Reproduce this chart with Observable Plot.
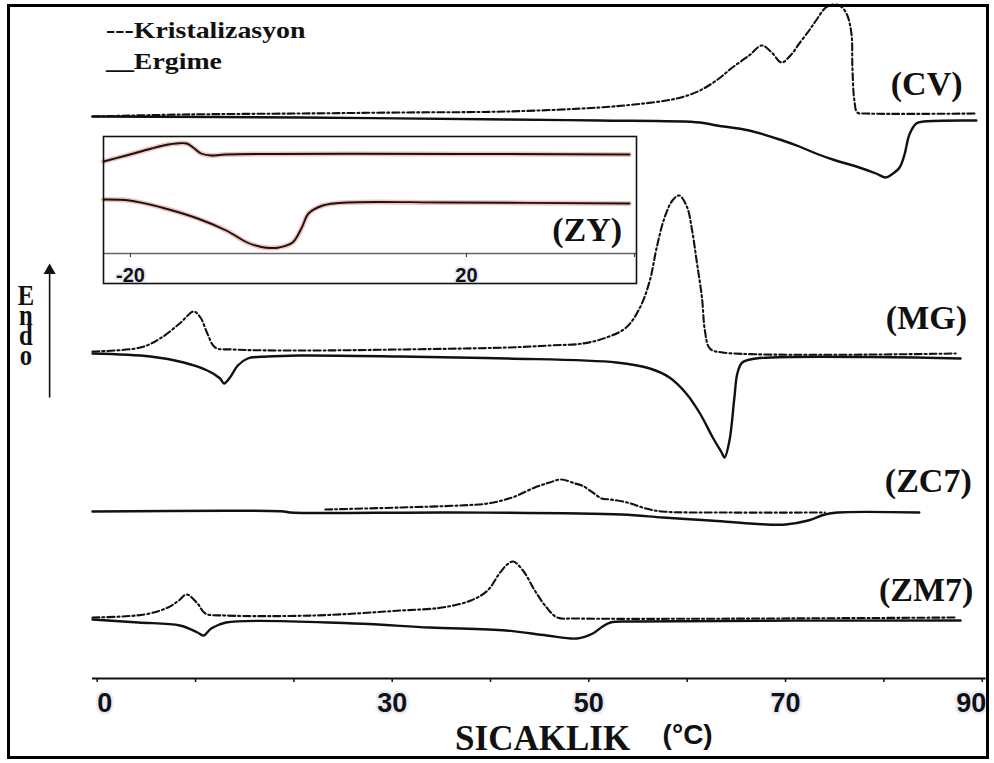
<!DOCTYPE html>
<html>
<head>
<meta charset="utf-8">
<script src="https://cdn.jsdelivr.net/npm/d3@7"></script>
<script src="https://cdn.jsdelivr.net/npm/@observablehq/plot@0.6"></script>
<style>
  html, body { margin: 0; padding: 0; background: #fff; }
  #wrap { position: relative; width: 994px; height: 763px; overflow: hidden; background: #fff; }
  #main { position: absolute; left: 0; top: 0; }
  #inset { position: absolute; left: 101px; top: 134px; }
  #frame { position: absolute; left: 7px; top: 4px; width: 976px; height: 749px; border: 3px solid #000; pointer-events: none; }
  .legend { position: absolute; left: 106px; font-family: "Liberation Serif", serif; font-weight: bold;
            font-size: 24px; line-height: 1; white-space: nowrap; transform: scaleX(1.16); transform-origin: left center; color: #111; }
  #endo { position: absolute; left: 11px; top: 279px; font-family: "Liberation Serif", serif; font-weight: bold;
          font-size: 29px; line-height: 1; writing-mode: vertical-lr; text-orientation: upright; letter-spacing: -12px;
          transform: scaleX(0.85); transform-origin: center top; color: #111; }
</style>
</head>
<body>
<div id="wrap">
  <div id="main"></div>
  <div id="inset"></div>
  <div class="legend" style="top:18px">---Kristalizasyon</div>
  <div class="legend" style="top:49px">__Ergime</div>
  <div id="endo">Endo</div>
  <div id="frame"></div>
</div>
<script>
// DSC thermograms: temperature (°C) vs. heat flow (arbitrary units, curves stacked with offsets).
// Each series is a list of [temperature, signal] readings.

// Melting (Ergime, solid) and crystallization (Kristalizasyon, dash-dot) curves per sample
const cvErgime = [[-0.48,562],[20.6,561],[41.7,559],[51.1,558],[61.3,556],[63.0,553],[66.3,548],[69.7,538],[71.4,532],[73.1,525],[74.8,519],[77.5,511],[79.2,505],[80.2,501],[80.8,504],[81.6,511],[82.1,524],[82.6,544],[83.3,555],[84.1,557],[89.4,558]];
const cvKristalizasyon = [[-0.48,562],[8.8,564],[20.6,565],[30.8,566],[41.7,567],[51.1,571],[54.6,574],[57.9,578],[59.7,582],[61.3,588],[63.1,599],[64.6,611],[66.3,623],[67.6,633],[68.6,626],[69.6,616],[70.5,623],[71.4,635],[72.4,648],[73.1,658],[74.1,671],[74.9,674],[75.5,673],[76.2,665],[76.7,645],[76.8,611],[77.0,578],[77.3,566],[78.2,565],[89.4,565]];

const mgErgime = [[-0.48,325],[5.4,322],[8.8,316],[11.2,308],[12.5,300],[12.9,295],[13.5,301],[14.3,313],[15.3,320],[17.3,322],[20.6,323],[30.8,322],[41.7,320],[52.8,316],[56.2,310],[58.2,301],[59.9,285],[61.3,265],[62.6,241],[63.5,226],[63.8,221],[64.3,238],[64.8,281],[65.1,305],[65.6,316],[67.0,320],[87.8,320]];
const mgKristalizasyon = [[-0.48,327],[4.4,331],[6.4,340],[8.5,356],[9.8,367],[10.5,361],[11.2,345],[12.0,331],[13.8,329],[20.6,328],[30.8,329],[41.7,331],[46.0,333],[49.4,335],[51.8,341],[53.8,351],[55.2,371],[56.2,398],[56.9,431],[57.7,461],[58.5,478],[59.2,483],[60.0,471],[60.5,448],[61.0,415],[61.5,381],[61.8,348],[62.3,330],[63.6,326],[87.3,325]];

const zc7Ergime = [[-0.48,167],[19.0,167],[19.6,166],[36.2,166],[53.3,164],[57.5,161],[62.3,158],[66.4,155],[70.0,154],[72.3,158],[74.0,164],[75.3,166],[83.6,166]];
const zc7Kristalizasyon = [[23.2,169],[30.9,171],[36.8,173],[39.7,175],[42.2,181],[44.5,191],[46.0,196],[47.2,199],[48.6,195],[49.3,193],[50.4,186],[51.3,180],[52.2,179],[53.9,176],[55.8,170],[57.5,167],[63.4,166],[74.0,166]];

const zm7Ergime = [[-0.48,59],[4.2,56],[8.4,53],[10.2,46],[10.8,43],[11.6,50],[13.1,56],[26.1,55],[33.8,51],[41.6,48],[45.7,43],[48.8,40],[50.4,45],[51.4,52],[52.2,56],[54.6,57],[87.8,58]];
const zm7Kristalizasyon = [[-0.48,61],[4.8,64],[7.2,71],[8.3,78],[9.1,84],[10.2,75],[11.0,65],[13.1,63],[22.0,63],[30.9,68],[35.1,71],[38.0,78],[39.7,88],[40.9,105],[41.7,114],[42.3,117],[43.3,108],[44.5,88],[45.7,71],[46.8,61],[48.7,60],[87.4,61]];

// ZY sample (inset, sub-zero temperature range)
const zyUpper = [[-23.2,122],[-20.5,128],[-17.5,135],[-15.5,139],[-14.5,140],[-13.3,140],[-12.4,135],[-11.6,130],[-10.4,128],[-8.6,129],[39.4,129]];
const zyLower = [[-23.2,84],[-20.1,83],[-16.3,76],[-12.0,65],[-8.6,53],[-6.1,41],[-4.4,36.5],[-3.3,35.5],[-2.3,36],[-0.7,41],[0.4,56],[1.2,70],[2.9,78],[5.8,81],[17.7,81],[39.4,80]];

// Sample names and where their labels sit (temperature, signal)
const sampleNames = ["(CV)", "(MG)", "(ZC7)", "(ZM7)"];
const sampleLabelT = [80.7, 80.2, 80.1, 79.5];
const sampleLabelY = [594, 360, 197, 88];

// Axis ticks
const xTicks = d3.range(0, 91, 10);
const xTickLabels = [0, 30, 50, 70, 90];
const insetTicks = [-20, 20, 40];
const insetTickLabels = [-20, 20];

const axisSpan = [-0.48, 90.4];
const serif = "Liberation Serif, serif";
const sans = "Liberation Sans, Arial, sans-serif";
const dashDot = "7,3,2,3";
const labelHalo = "#ebebf7";

const pt = {x: d => d[0], y: d => d[1], curve: "catmull-rom"};
const solid = (data) => Plot.line(data, {...pt, stroke: "#111", strokeWidth: 2.4});
const dashed = (data) => Plot.line(data, {...pt, stroke: "#111", strokeWidth: 2.1, strokeDasharray: dashDot});
const tickText = {y: 0, dy: 25, text: d => `${d}`, fontFamily: sans, fontWeight: "bold", fontSize: 27,
  fill: "#111", stroke: labelHalo, strokeWidth: 5, paintOrder: "stroke"};

const main = Plot.plot({
  width: 994,
  height: 763,
  marginLeft: 96.7,
  marginRight: 12.3,
  marginTop: 0,
  marginBottom: 85,
  x: {domain: [0, 90], axis: null},
  y: {domain: [0, 678], axis: null},
  style: {background: "transparent", overflow: "visible"},
  marks: [
    // bottom temperature axis
    Plot.ruleY([0], {x1: axisSpan[0], x2: axisSpan[1], stroke: "#111", strokeWidth: 2}),
    Plot.ruleX(xTicks, {y1: 0, y2: -4, stroke: "#111", strokeWidth: 1.5}),
    Plot.text(xTickLabels.filter(d => d === 0), {...tickText, x: d => d, textAnchor: "start"}),
    Plot.text(xTickLabels.filter(d => d > 0 && d < 90), {...tickText, x: d => d, textAnchor: "middle"}),
    Plot.text(xTickLabels.filter(d => d === 90), {...tickText, x: d => d, dx: 4, textAnchor: "end"}),
    Plot.text(["SICAKLIK"], {x: 45.3, y: -60, text: d => d, textAnchor: "middle", lineAnchor: "middle",
      fontFamily: serif, fontWeight: "bold", fontSize: 35, fill: "#111"}),
    Plot.text(["(°C)"], {x: 57.5, y: -57, text: d => d, textAnchor: "start", lineAnchor: "middle",
      fontFamily: sans, fontWeight: "bold", fontSize: 28, fill: "#111"}),

    // endothermic direction arrow
    Plot.link([0], {x1: -4.84, x2: -4.84, y1: 281, y2: 405, stroke: "#111", strokeWidth: 1.6}),
    Plot.dot([0], {x: -4.84, y: 408, symbol: "triangle", r: 4.5, fill: "#111", stroke: "none"}),

    // thermograms
    solid(cvErgime), dashed(cvKristalizasyon),
    solid(mgErgime), dashed(mgKristalizasyon),
    solid(zc7Ergime), dashed(zc7Kristalizasyon),
    solid(zm7Ergime), dashed(zm7Kristalizasyon),

    // sample labels
    Plot.text(sampleNames, {x: (d, i) => sampleLabelT[i], y: (d, i) => sampleLabelY[i], text: d => d,
      textAnchor: "start", lineAnchor: "middle", fontFamily: serif, fontWeight: "bold", fontSize: 34, fill: "#111"})
  ]
});
document.getElementById("main").append(main);

const inset = Plot.plot({
  width: 537,
  height: 151,
  margin: 2,
  x: {domain: [-23.21, 40.24], axis: null},
  y: {domain: [0, 147], axis: null},
  style: {background: "#fff", overflow: "visible"},
  marks: [
    Plot.ruleY([30], {stroke: "#666", strokeWidth: 1.3}),
    Plot.ruleX(insetTicks, {y1: 30, y2: 26, stroke: "#444", strokeWidth: 1.2}),
    Plot.text(insetTickLabels, {x: d => d, y: 8, text: d => `${d}`, textAnchor: "middle", lineAnchor: "middle",
      fontFamily: sans, fontWeight: "bold", fontSize: 20, fill: "#111", stroke: labelHalo, strokeWidth: 4, paintOrder: "stroke"}),
    Plot.line(zyUpper, {...pt, stroke: "#f1c4bb", strokeWidth: 5}),
    Plot.line(zyLower, {...pt, stroke: "#f1c4bb", strokeWidth: 5}),
    Plot.line(zyUpper, {...pt, stroke: "#1a1111", strokeWidth: 1.9}),
    Plot.line(zyLower, {...pt, stroke: "#1a1111", strokeWidth: 1.9}),
    Plot.text(["(ZY)"], {x: 30.2, y: 53, text: d => d, textAnchor: "start", lineAnchor: "middle",
      fontFamily: serif, fontWeight: "bold", fontSize: 34, fill: "#111"}),
    Plot.frame({stroke: "#111", strokeWidth: 1.6})
  ]
});
document.getElementById("inset").append(inset);
</script>
</body>
</html>
